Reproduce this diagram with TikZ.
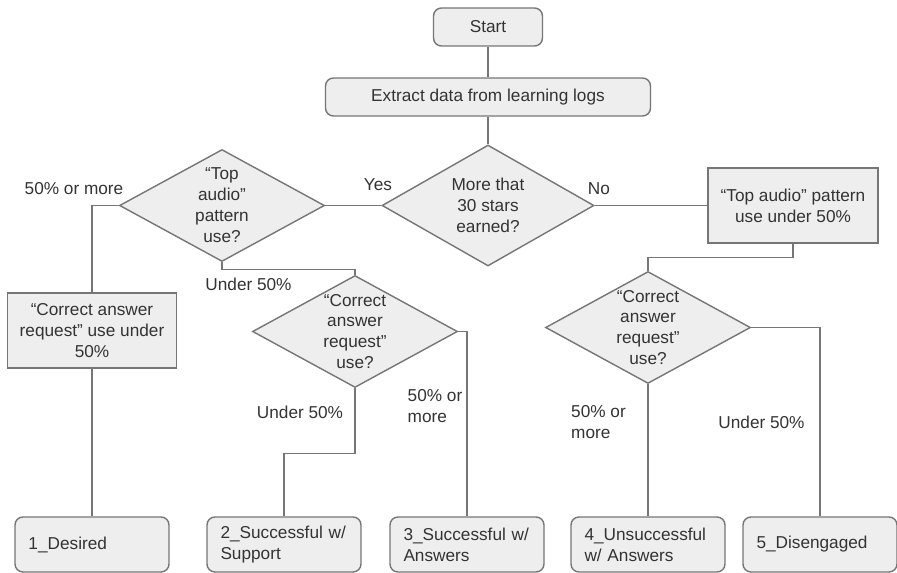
\documentclass[tikz,border=0pt]{standalone}
\usepackage{fontspec}
\setmainfont{Liberation Sans}
\usepackage{tikz}
\usetikzlibrary{positioning, shapes.geometric}

\definecolor{boxfill}{HTML}{EEEEEE}
\definecolor{linegray}{HTML}{767676}
\definecolor{textgray}{HTML}{333333}

\begin{document}
\begin{tikzpicture}[
    on grid,
    font=\fontsize{9.8pt}{11.9pt}\selectfont,
    every node/.style={text=textgray},
    line/.style={draw=linegray, line width=0.8pt},
    rbox/.style={
        draw=linegray,
        fill=boxfill,
        line width=0.8pt,
        rounded corners=0.16cm,
        minimum height=0.76cm
    },
    pbox/.style={
        draw=linegray,
        fill=boxfill,
        line width=0.8pt,
        align=center,
        minimum width=3.4cm,
        minimum height=1.5cm
    },
    outcome/.style={
        draw=linegray,
        fill=boxfill,
        line width=0.8pt,
        rounded corners=0.16cm,
        align=left,
        text width=2.54cm,
        inner xsep=0.27cm,
        minimum height=1.1cm
    },
    decision/.style={
        diamond,
        draw=linegray,
        fill=boxfill,
        line width=0.8pt,
        inner sep=0pt,
        minimum width=4.1cm,
        minimum height=2.24cm
    },
    lbl/.style={align=left, inner sep=0pt}
]
\useasboundingbox (0,0) rectangle (17.94,-11.46);

% nodes
\node[rbox, minimum width=2.18cm] (start) at (9.76,-0.54) {Start};
\node[rbox, minimum width=6.5cm, below=1.4cm of start] (extract) {Extract data from learning logs};
\node[decision, minimum width=4.24cm, minimum height=2.42cm, below=2.17cm of extract,
    label={[align=center]center:More that\\30 stars\\earned?}] (stars) {};
\node[decision, left=5.32cm of stars,
    label={[align=center]center:“Top\\audio”\\pattern\\use?}] (audio) {};
\node[pbox, right=6.1cm of stars] (audiolow) {“Top audio” pattern\\use under 50\%};
\node[pbox, minimum width=3.38cm, below left=2.5cm and 2.6cm of audio] (answerlow) {“Correct answer\\request” use under\\50\%};
\node[decision, below right=2.52cm and 2.66cm of audio,
    label={[align=center]center:“Correct\\answer\\request”\\use?}] (reqmid) {};
\node[decision, below left=2.44cm and 2.9cm of audiolow,
    label={[align=center]center:“Correct\\answer\\request”\\use?}] (reqright) {};

% outcomes
\node[outcome, below=4.28cm of answerlow] (desired) {1\_Desired};
\node[outcome, below left=4.26cm and 1.42cm of reqmid] (support) {2\_Successful w/\\Support};
\node[outcome, below right=4.26cm and 2.24cm of reqmid] (answers) {3\_Successful w/\\Answers};
\node[outcome, below=4.34cm of reqright] (unsucc) {4\_Unsuccessful\\w/ Answers};
\node[outcome, right=3.44cm of unsucc] (diseng) {5\_Disengaged};

% connectors
\path[line]
(start) -- (extract)
(extract) -- (stars)
(stars.west) -- (audio.east)
(stars.east) -- (audiolow.west)
(audio.west) -| (answerlow.north)
(audio.south) -- ++(0,-0.14) -| (reqmid.north)
(answerlow.south) -- (desired.north)
(reqmid.south) -- ++(0,-1.3) -| (support.north)
(reqmid.east) -| (answers.north)
(audiolow.south) -- ++(0,-0.28) -| (reqright.north)
(reqright.south) -- (unsucc.north)
(reqright.east) -| (diseng.north);

% labels
\node[lbl, above left=0.41cm and 2.2cm of stars] (yes) {Yes};
\node[lbl, above right=0.33cm and 2.22cm of stars] (no) {No};
\node[lbl, above left=0.33cm and 2.96cm of audio] (audiomore) {50\% or more};
\node[lbl, below right=1.57cm and 0.53cm of audio] (audiounder) {Under 50\%};
\node[lbl, below left=1.61cm and 1.1cm of reqmid] (midunder) {Under 50\%};
\node[lbl, below right=1.5cm and 1.6cm of reqmid] (midmore) {50\% or\\more};
\node[lbl, below left=1.89cm and 0.99cm of reqright] (rightmore) {50\% or\\more};
\node[lbl, below right=1.89cm and 2.27cm of reqright] (rightunder) {Under 50\%};
\end{tikzpicture}
\end{document}
